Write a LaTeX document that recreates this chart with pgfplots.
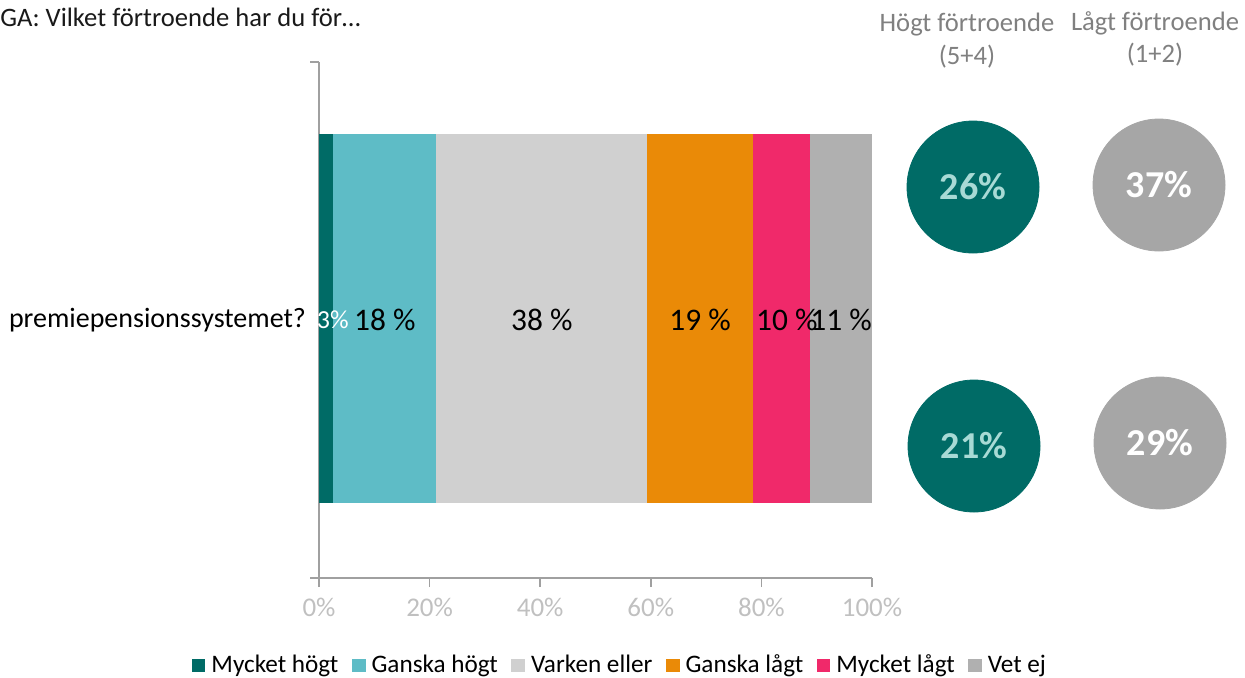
\documentclass[border=0pt]{standalone}
\usepackage{fontspec}
\setmainfont{Carlito}
\usepackage{pgfplots}
\pgfplotsset{compat=1.18}
\definecolor{c1}{HTML}{006B66}
\definecolor{c2}{HTML}{5EBCC6}
\definecolor{c3}{HTML}{D0D0D0}
\definecolor{c4}{HTML}{EA8A07}
\definecolor{c5}{HTML}{F0296A}
\definecolor{c6}{HTML}{B0B0B0}
\definecolor{circgray}{HTML}{A6A6A6}
\definecolor{lightteal}{HTML}{A8DAD5}
\definecolor{axisgray}{HTML}{A0A0A0}
\definecolor{tickgray}{HTML}{C0C0C0}
\definecolor{headgray}{HTML}{808080}
\pgfplotsset{
  sqlegend/.style={legend image code/.code={\fill[##1] (0pt,-3.6pt) rectangle (6.8pt,3.2pt);}},
}
\begin{document}
\begin{tikzpicture}
\useasboundingbox (0,0) rectangle (622.5pt,338.5pt);
\begin{axis}[
  at={(159.5pt,49.5pt)}, anchor=south west, scale only axis,
  width=276.5pt, height=258pt,
  xbar stacked, bar width=184.5pt,
  xmin=0, xmax=100, ymin=0, ymax=2,
  axis x line*=bottom, axis y line*=left,
  axis line style={draw=axisgray, line width=0.8pt},
  every tick/.style={draw=axisgray, line width=0.8pt},
  xtick={0,20,40,60,80,100},
  xticklabel={\pgfmathprintnumber{\tick}\%},
  xtick align=outside, ytick align=outside,
  major tick length=4.5pt,
  ytick={0,2}, yticklabels={},
  extra y ticks={1}, extra y tick labels={premiepensionssystemet?},
  extra y tick style={major tick length=0pt, yticklabel style={xshift=-3pt, font=\fontsize{14}{16}\selectfont, text=black}},
  xticklabel style={font=\fontsize{13.5}{16}\selectfont, text=tickgray, yshift=-2pt},
  /pgf/number format/assume math mode=true,
  legend columns=6,
  legend style={at={(0.546,-0.169)}, anchor=center, draw=none, fill=none,
    font=\fontsize{12.6}{14}\selectfont,
    /tikz/every even column/.append style={column sep=4.8pt},
    /tikz/every odd column/.append style={column sep=1pt}},
  clip=false,
]
\addplot[fill=c1, draw=none, sqlegend] coordinates {(2.6,1.005)};
\addplot[fill=c2, draw=none, sqlegend] coordinates {(18.6,1.005)};
\addplot[fill=c3, draw=none, sqlegend] coordinates {(38.2,1.005)};
\addplot[fill=c4, draw=none, sqlegend] coordinates {(19.0,1.005)};
\addplot[fill=c5, draw=none, sqlegend] coordinates {(10.3,1.005)};
\addplot[fill=c6, draw=none, sqlegend] coordinates {(11.3,1.005)};
\legend{Mycket högt, Ganska högt, Varken eller, Ganska lågt, Mycket lågt, Vet ej}
\end{axis}
% segment labels
\begin{axis}[
  at={(159.5pt,49.5pt)}, anchor=south west, scale only axis,
  width=276.5pt, height=258pt,
  xmin=0, xmax=100, ymin=0, ymax=2,
  hide axis, clip=false,
  point meta=explicit symbolic,
]
\addplot[only marks, mark=none, nodes near coords,
  every node near coord/.style={anchor=center, inner sep=0pt, text=white, font=\fontsize{13}{15}\selectfont}]
  coordinates {(2.5,1) [3\%]};
\addplot[only marks, mark=none, nodes near coords,
  every node near coord/.style={anchor=center, inner sep=0pt, text=black, font=\fontsize{15.7}{18}\selectfont}]
  coordinates {(11.9,1) [18 \%] (40.3,1) [38 \%] (68.9,1) [19 \%] (84.6,1) [10 \%] (94.4,1) [11 \%]};
\end{axis}
\begin{axis}[
  at={(436pt,49.5pt)}, anchor=south west, scale only axis,
  width=186.5pt, height=258pt,
  xmin=872, xmax=1245, ymin=62, ymax=578, y dir=reverse,
  hide axis, clip=false,
  point meta=explicit symbolic,
]
\addplot[only marks, draw=c1, fill=c1, mark=*, mark size=33pt, mark options={fill=c1, draw=c1},
  nodes near coords, every node near coord/.style={anchor=center, text=lightteal, font=\bfseries\fontsize{19}{22}\selectfont}]
  coordinates {(973,187) [26\%] (974,446) [21\%]};
\addplot[only marks, draw=circgray, fill=circgray, mark=*, mark size=33pt, mark options={fill=circgray, draw=circgray},
  nodes near coords, every node near coord/.style={anchor=center, text=white, font=\bfseries\fontsize{19}{22}\selectfont}]
  coordinates {(1159,185) [37\%] (1160,443) [29\%]};
\end{axis}
\node[anchor=west, inner sep=0pt, text=black!90, font=\fontsize{13.3}{15}\selectfont] at (0pt,330pt) {GA: Vilket förtroende har du för…};
\node[inner sep=0pt, text=headgray, font=\fontsize{13.3}{15}\selectfont] at (483.5pt,326pt) {Högt förtroende};
\node[inner sep=0pt, text=headgray, font=\fontsize{13.3}{15}\selectfont] at (483.5pt,310pt) {(5+4)};
\node[inner sep=0pt, text=headgray, font=\fontsize{13.3}{15}\selectfont] at (577.5pt,327pt) {Lågt förtroende};
\node[inner sep=0pt, text=headgray, font=\fontsize{13.3}{15}\selectfont] at (577.5pt,311pt) {(1+2)};
\end{tikzpicture}
\end{document}
